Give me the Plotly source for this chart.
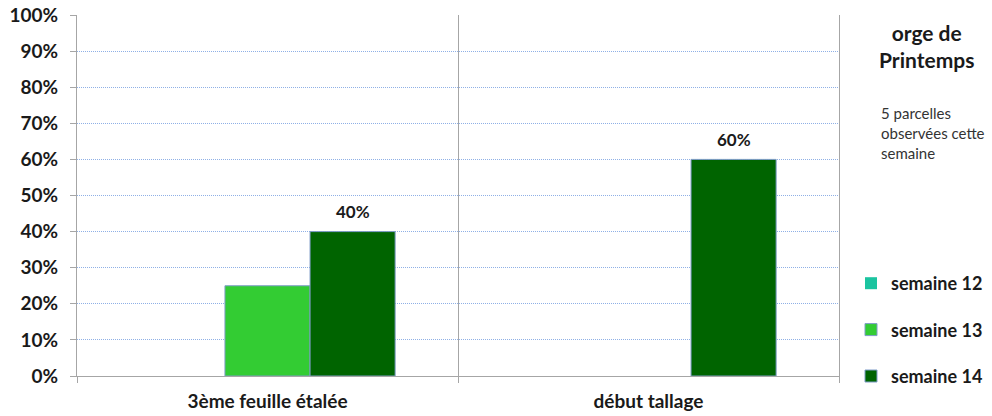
import plotly.graph_objects as go

categories = ["3ème feuille étalée", "début tallage"]
series_names = ["semaine 12", "semaine 13", "semaine 14"]
semaine12 = [0.0, 0.0]
semaine13 = [0.25, 0.0]
semaine14 = [0.40, 0.60]
show_labels = [False, False, True]
colors = ["#1BC4A0", "#33CC33", "#006400"]

FONT = "Lato"
values = [semaine12, semaine13, semaine14]

W, H = 992, 416
ML, MR, MT, MB = 77, 153, 15, 40
BARGAP = 0.33
plot_w = W - ML - MR
plot_h = H - MT - MB
bar_px = plot_w / len(categories) * (1 - BARGAP) / len(series_names)

fig = go.Figure()
for i, (name, vals) in enumerate(zip(series_names, values)):
    fig.add_trace(go.Bar(
        x=categories, y=vals, name=name,
        marker=dict(color=colors[i],
                    line=dict(color="#7F9CC8", width=[1 if v > 0 else 0 for v in vals])),
        legendgroup=name,
    ))
    if show_labels[i]:
        offset = (i - (len(series_names) - 1) / 2) * bar_px
        for c, v in zip(categories, vals):
            if v > 0:
                fig.add_annotation(x=c, y=v, text=f"{v:.0%}", showarrow=False,
                                   xshift=offset, yshift=20, yanchor="middle",
                                   font=dict(family=FONT, size=17, color="#1a1a1a", weight="bold"))

def py(page_y):
    return (MT + plot_h - page_y) / plot_h

def px(page_x):
    return (page_x - ML) / plot_w

fig.update_layout(
    width=W, height=H,
    margin=dict(l=ML, r=MR, t=MT, b=MB, autoexpand=False),
    paper_bgcolor="white", plot_bgcolor="white",
    barmode="group", bargap=BARGAP, bargroupgap=0,
    font=dict(family=FONT, color="#1a1a1a"),
    legend=dict(
        x=px(851), y=py(265), xanchor="left", yanchor="top",
        font=dict(family=FONT, size=18, color="#1a1a1a", weight="bold"),
        tracegroupgap=20, itemwidth=30, bgcolor="rgba(0,0,0,0)",
    ),
    xaxis=dict(
        tickson="boundaries", showgrid=True, gridcolor="#A6A6A6", gridwidth=1,
        showline=True, linecolor="#A6A6A6", linewidth=1,
        ticks="outside", ticklen=6, tickcolor="#A6A6A6",
        tickfont=dict(family=FONT, size=19, color="#1a1a1a", weight="bold"),
        ticklabelstandoff=8,
        range=[-0.5, 1.5], automargin=False,
    ),
    yaxis=dict(
        range=[0, 1], dtick=0.1, tickformat=".0%",
        showgrid=True, gridcolor="#8FB0E6", griddash="1px,1px", gridwidth=1.3,
        showline=True, linecolor="#A6A6A6", linewidth=1, mirror=True,
        ticks="outside", ticklen=6, tickcolor="#A6A6A6",
        tickfont=dict(family=FONT, size=19, color="#1a1a1a", weight="bold"),
        ticklabelstandoff=8,
        zeroline=False, automargin=False, ticklabeloverflow="allow",
    ),
)

fig.add_annotation(text="orge de<br>Printemps", xref="paper", yref="paper",
                   x=px(926), y=py(46), xanchor="center", yanchor="middle", showarrow=False,
                   font=dict(family=FONT, size=21, color="#1a1a1a", weight="bold"))
for k, line in enumerate(["5 parcelles", "observées cette", "semaine"]):
    fig.add_annotation(text=line, xref="paper", yref="paper",
                       x=px(879), y=py(113 + 20 * k), xanchor="left", yanchor="middle",
                       showarrow=False, font=dict(family=FONT, size=15, color="#333333"))

fig.write_html("out.html", config={"displayModeBar": False},
               post_script="document.body.style.margin='0';document.body.style.overflow='hidden';")
